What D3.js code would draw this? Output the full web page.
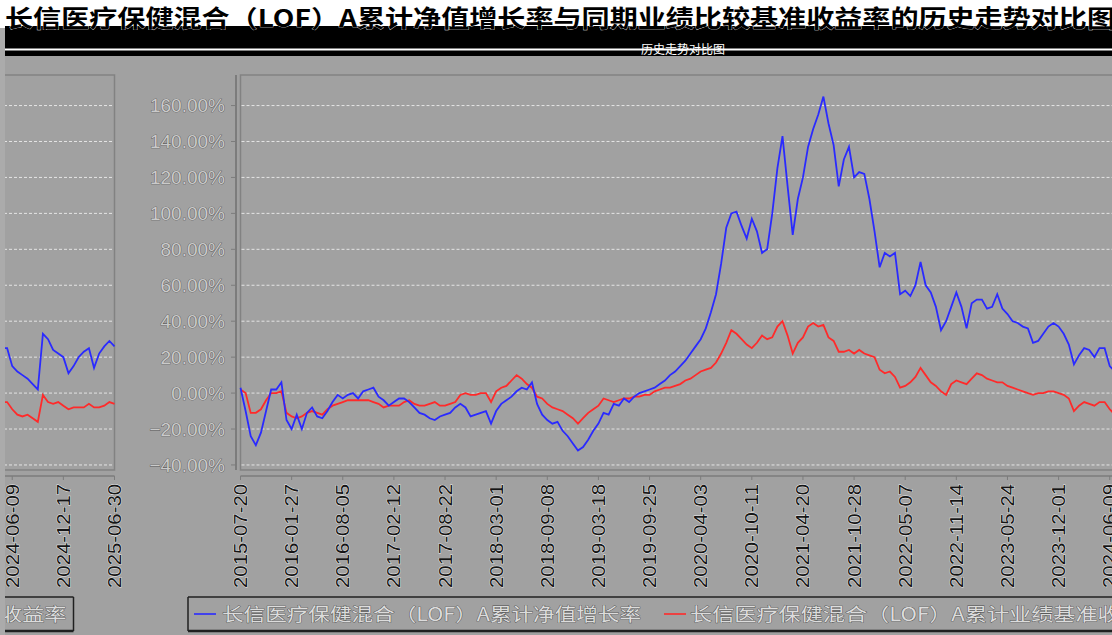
<!DOCTYPE html>
<html><head><meta charset="utf-8">
<script src="https://cdn.jsdelivr.net/npm/d3@7"></script>
<style>html,body{margin:0;padding:0;background:#a1a1a1;overflow:hidden}</style>
</head><body>
<svg id="c" width="1112" height="635"></svg>
<script>
const titleText = "长信医疗保健混合（LOF）A累计净值增长率与同期业绩比较基准收益率的历史走势对比图";
const subtitleText = "历史走势对比图";
const seriesNames = ["长信医疗保健混合（LOF）A累计净值增长率", "长信医疗保健混合（LOF）A累计业绩基准收益率"];
const tickLabels = ["2015-07-20","2016-01-27","2016-08-05","2017-02-12","2017-08-22","2018-03-01","2018-09-08","2019-03-18","2019-09-25","2020-04-03","2020-10-11","2021-04-20","2021-10-28","2022-05-07","2022-11-14","2023-05-24","2023-12-01","2024-06-09","2024-12-17","2025-06-30"];
const yTicks = [-40,-20,0,20,40,60,80,100,120,140,160];
const fundValues = [
3,-10,-24,-29,-22,-10,2,2,6,-15,
-20,-12,-20,-11,-8,-13,-14,-10,-5,-1,
-3,-1,0,-3,1,2,3,-2,-4,-7,
-5,-3,-3,-5,-8,-11,-12,-14,-15,-13,
-12,-11,-8,-6,-8,-13,-12,-11,-10,-17,
-10,-6,-4,-2,1,3,2,6,-6,-12,
-15,-17,-16,-21,-24,-28,-32,-30,-26,-21,
-17,-11,-12,-6,-7,-3,-5,-2,0,1,
2,3,5,7,10,12,15,18,22,26,
30,36,45,55,72,92,100,101,93,86,
97,90,78,80,100,125,143,115,88,108,
120,137,147,155,165,150,138,115,130,137,
120,123,122,108,90,70,78,76,78,55,
57,54,60,73,60,56,48,35,40,48,
56,48,36,50,52,52,47,48,55,47,
44,40,39,37,36,28,29,33,37,39,
37,33,27,16,21,25,24,20,25,25,
15,12,10,8,5,2,33,30,24,22,
20,11,15,20,23,25,14,22,26,29,26];
const benchValues = [
2,0,-11,-11,-9,-4,0,0,1,-11,
-13,-14,-13,-11,-10,-11,-12,-9,-7,-6,
-5,-4,-4,-4,-4,-4,-5,-6,-8,-7,
-7,-7,-5,-4,-6,-7,-7,-6,-5,-7,
-7,-6,-5,-1,0,-1,-1,0,0,-5,
1,3,4,7,10,8,5,3,-2,-3,
-6,-8,-9,-10,-12,-14,-17,-14,-11,-9,
-7,-3,-4,-5,-4,-3,-3,-2,-2,-1,
-1,1,2,3,3,4,5,7,8,10,
12,13,14,17,22,28,35,33,30,27,
25,28,32,30,31,37,40,32,22,28,
31,37,39,37,38,31,29,23,23,24,
22,24,22,21,20,13,11,12,9,3,
4,6,9,14,10,6,4,1,-1,5,
7,6,5,8,11,10,8,7,6,6,
4,3,2,1,0,-1,0,0,1,1,
0,-1,-3,-10,-7,-5,-6,-7,-5,-5,
-9,-12,-13,-12,-14,-16,-1,-5,-6,-5,
-7,-9,-8,-8,-8,-6,-8,-8,-7,-5,-6];

const svg = d3.select("#c");
const W = 1112, H = 635;
const wrapOffset = 1097.5;
const plot = {left: 240.5, right: 1212, top: 75, bottom: 470};
const N = fundValues.length;
const step = (N - 1) / (tickLabels.length - 1);

const x = d3.scaleLinear().domain([0, N - 1]).range([plot.left, plot.right]);
const y = d3.scaleLinear().domain([-42.8, 177]).range([plot.bottom, plot.top]);

svg.append("rect").attr("width", W).attr("height", H).attr("fill", "#a1a1a1");
svg.append("rect").attr("width", 5).attr("height", H).attr("fill", "#ababab");

const defs = svg.append("defs");
defs.append("clipPath").attr("id", "wrapClip").append("rect")
  .attr("x", 5).attr("y", 56).attr("width", 120).attr("height", H - 56);
defs.append("clipPath").attr("id", "mainClip").append("rect")
  .attr("x", 0).attr("y", 56).attr("width", W).attr("height", H - 56);

function drawChart(g) {
  g.append("line").attr("x1", 236).attr("x2", 236).attr("y1", plot.top).attr("y2", plot.bottom)
    .attr("stroke", "#7c7c7c").attr("stroke-width", 2);
  yTicks.forEach(t => {
    g.append("line").attr("x1", 231).attr("x2", 236).attr("y1", y(t)).attr("y2", y(t))
      .attr("stroke", "#7c7c7c").attr("stroke-width", 1);
    g.append("text").attr("x", 225).attr("y", y(t)).attr("dy", "0.36em")
      .attr("text-anchor", "end")
      .attr("font-family", "Liberation Sans, Arial, sans-serif").attr("font-size", 19)
      .attr("fill", "#cacaca").attr("stroke", "#4a4a4a").attr("stroke-width", 0.7)
      .attr("paint-order", "stroke")
      .text(d3.format(".2f")(t) + "%");
  });
  g.append("rect").attr("x", plot.left).attr("y", plot.top)
    .attr("width", plot.right - plot.left).attr("height", plot.bottom - plot.top)
    .attr("fill", "none").attr("stroke", "#828282").attr("stroke-width", 1.5);
  yTicks.forEach(t => {
    g.append("line").attr("x1", plot.left + 1).attr("x2", plot.right - 1)
      .attr("y1", y(t)).attr("y2", y(t))
      .attr("stroke", "#e4e4e4").attr("stroke-width", 1).attr("stroke-dasharray", "3,2");
  });
  g.append("line").attr("x1", plot.left).attr("x2", plot.right).attr("y1", 476).attr("y2", 476)
    .attr("stroke", "#7c7c7c").attr("stroke-width", 1.5);
  tickLabels.forEach((lab, k) => {
    const tx = x(k * step);
    g.append("line").attr("x1", tx).attr("x2", tx).attr("y1", 476).attr("y2", 480)
      .attr("stroke", "#7c7c7c").attr("stroke-width", 1);
    g.append("text").attr("transform", `translate(${tx},484) rotate(-90)`)
      .attr("dy", "0.36em").attr("text-anchor", "end")
      .attr("font-family", "Liberation Sans, Arial, sans-serif").attr("font-size", 18)
      .attr("textLength", 104).attr("lengthAdjust", "spacingAndGlyphs")
      .attr("fill", "#151515").attr("stroke", "#f0f0f0").attr("stroke-width", 0.8)
      .attr("paint-order", "stroke")
      .text(lab);
  });
  const line = d3.line().x((d, i) => x(i)).y(d => y(d));
  g.append("path").datum(benchValues).attr("d", line)
    .attr("fill", "none").attr("stroke", "#ff2a2a").attr("stroke-width", 1.8);
  g.append("path").datum(fundValues).attr("d", line)
    .attr("fill", "none").attr("stroke", "#2a2aff").attr("stroke-width", 1.8);
  const lg = {left: 188, right: 1171, top: 597, bottom: 631};
  g.append("line").attr("x1", lg.left).attr("x2", lg.right).attr("y1", lg.top).attr("y2", lg.top)
    .attr("stroke", "#202020").attr("stroke-width", 1.5);
  g.append("line").attr("x1", lg.left).attr("x2", lg.left).attr("y1", lg.top).attr("y2", lg.bottom)
    .attr("stroke", "#202020").attr("stroke-width", 1.5);
  g.append("line").attr("x1", lg.right).attr("x2", lg.right).attr("y1", lg.top).attr("y2", lg.bottom)
    .attr("stroke", "#202020").attr("stroke-width", 1.5);
  g.append("line").attr("x1", lg.left).attr("x2", lg.right).attr("y1", lg.bottom).attr("y2", lg.bottom)
    .attr("stroke", "#202020").attr("stroke-width", 2.5);
  const items = [
    {name: seriesNames[0], color: "#2a2aff", x0: 194, tx: 222, len: 419},
    {name: seriesNames[1], color: "#ff2a2a", x0: 664, tx: 690, len: 474}
  ];
  items.forEach(it => {
    g.append("line").attr("x1", it.x0).attr("x2", it.x0 + 22).attr("y1", 614).attr("y2", 614)
      .attr("stroke", it.color).attr("stroke-width", 1.6);
    g.append("text").attr("x", it.tx).attr("y", 621)
      .attr("font-family", "Noto Sans CJK SC, sans-serif").attr("font-size", 18)
      .attr("textLength", it.len).attr("lengthAdjust", "spacingAndGlyphs")
      .attr("fill", "#dcdcdc").attr("stroke", "#4a4a4a").attr("stroke-width", 0.7)
      .attr("paint-order", "stroke")
      .text(it.name);
  });
}

const mainG = svg.append("g").attr("clip-path", "url(#mainClip)");
drawChart(mainG);
const wrapOuter = svg.append("g").attr("clip-path", "url(#wrapClip)");
const wrapG = wrapOuter.append("g").attr("transform", `translate(${-wrapOffset},0)`);
drawChart(wrapG);

svg.append("rect").attr("x", 0).attr("y", 0).attr("width", W).attr("height", 28).attr("fill", "#ffffff");
svg.append("rect").attr("x", 5).attr("y", 26).attr("width", W - 5).attr("height", 30).attr("fill", "#000000");
svg.append("rect").attr("x", 5).attr("y", 48.5).attr("width", W - 5).attr("height", 2).attr("fill", "#ffffff");
svg.append("text").attr("x", 5).attr("y", 27)
  .attr("font-family", "Noto Sans CJK SC, sans-serif").attr("font-weight", "bold").attr("font-size", 24)
  .attr("textLength", 1110).attr("lengthAdjust", "spacingAndGlyphs")
  .attr("fill", "#000").attr("stroke", "#fff").attr("stroke-width", 0.6).attr("paint-order", "stroke")
  .text(titleText);
svg.append("text").attr("x", 683).attr("y", 54)
  .attr("text-anchor", "middle")
  .attr("font-family", "Noto Sans CJK SC, sans-serif").attr("font-size", 12)
  .attr("fill", "#fff")
  .text(subtitleText);
</script>
</body></html>
